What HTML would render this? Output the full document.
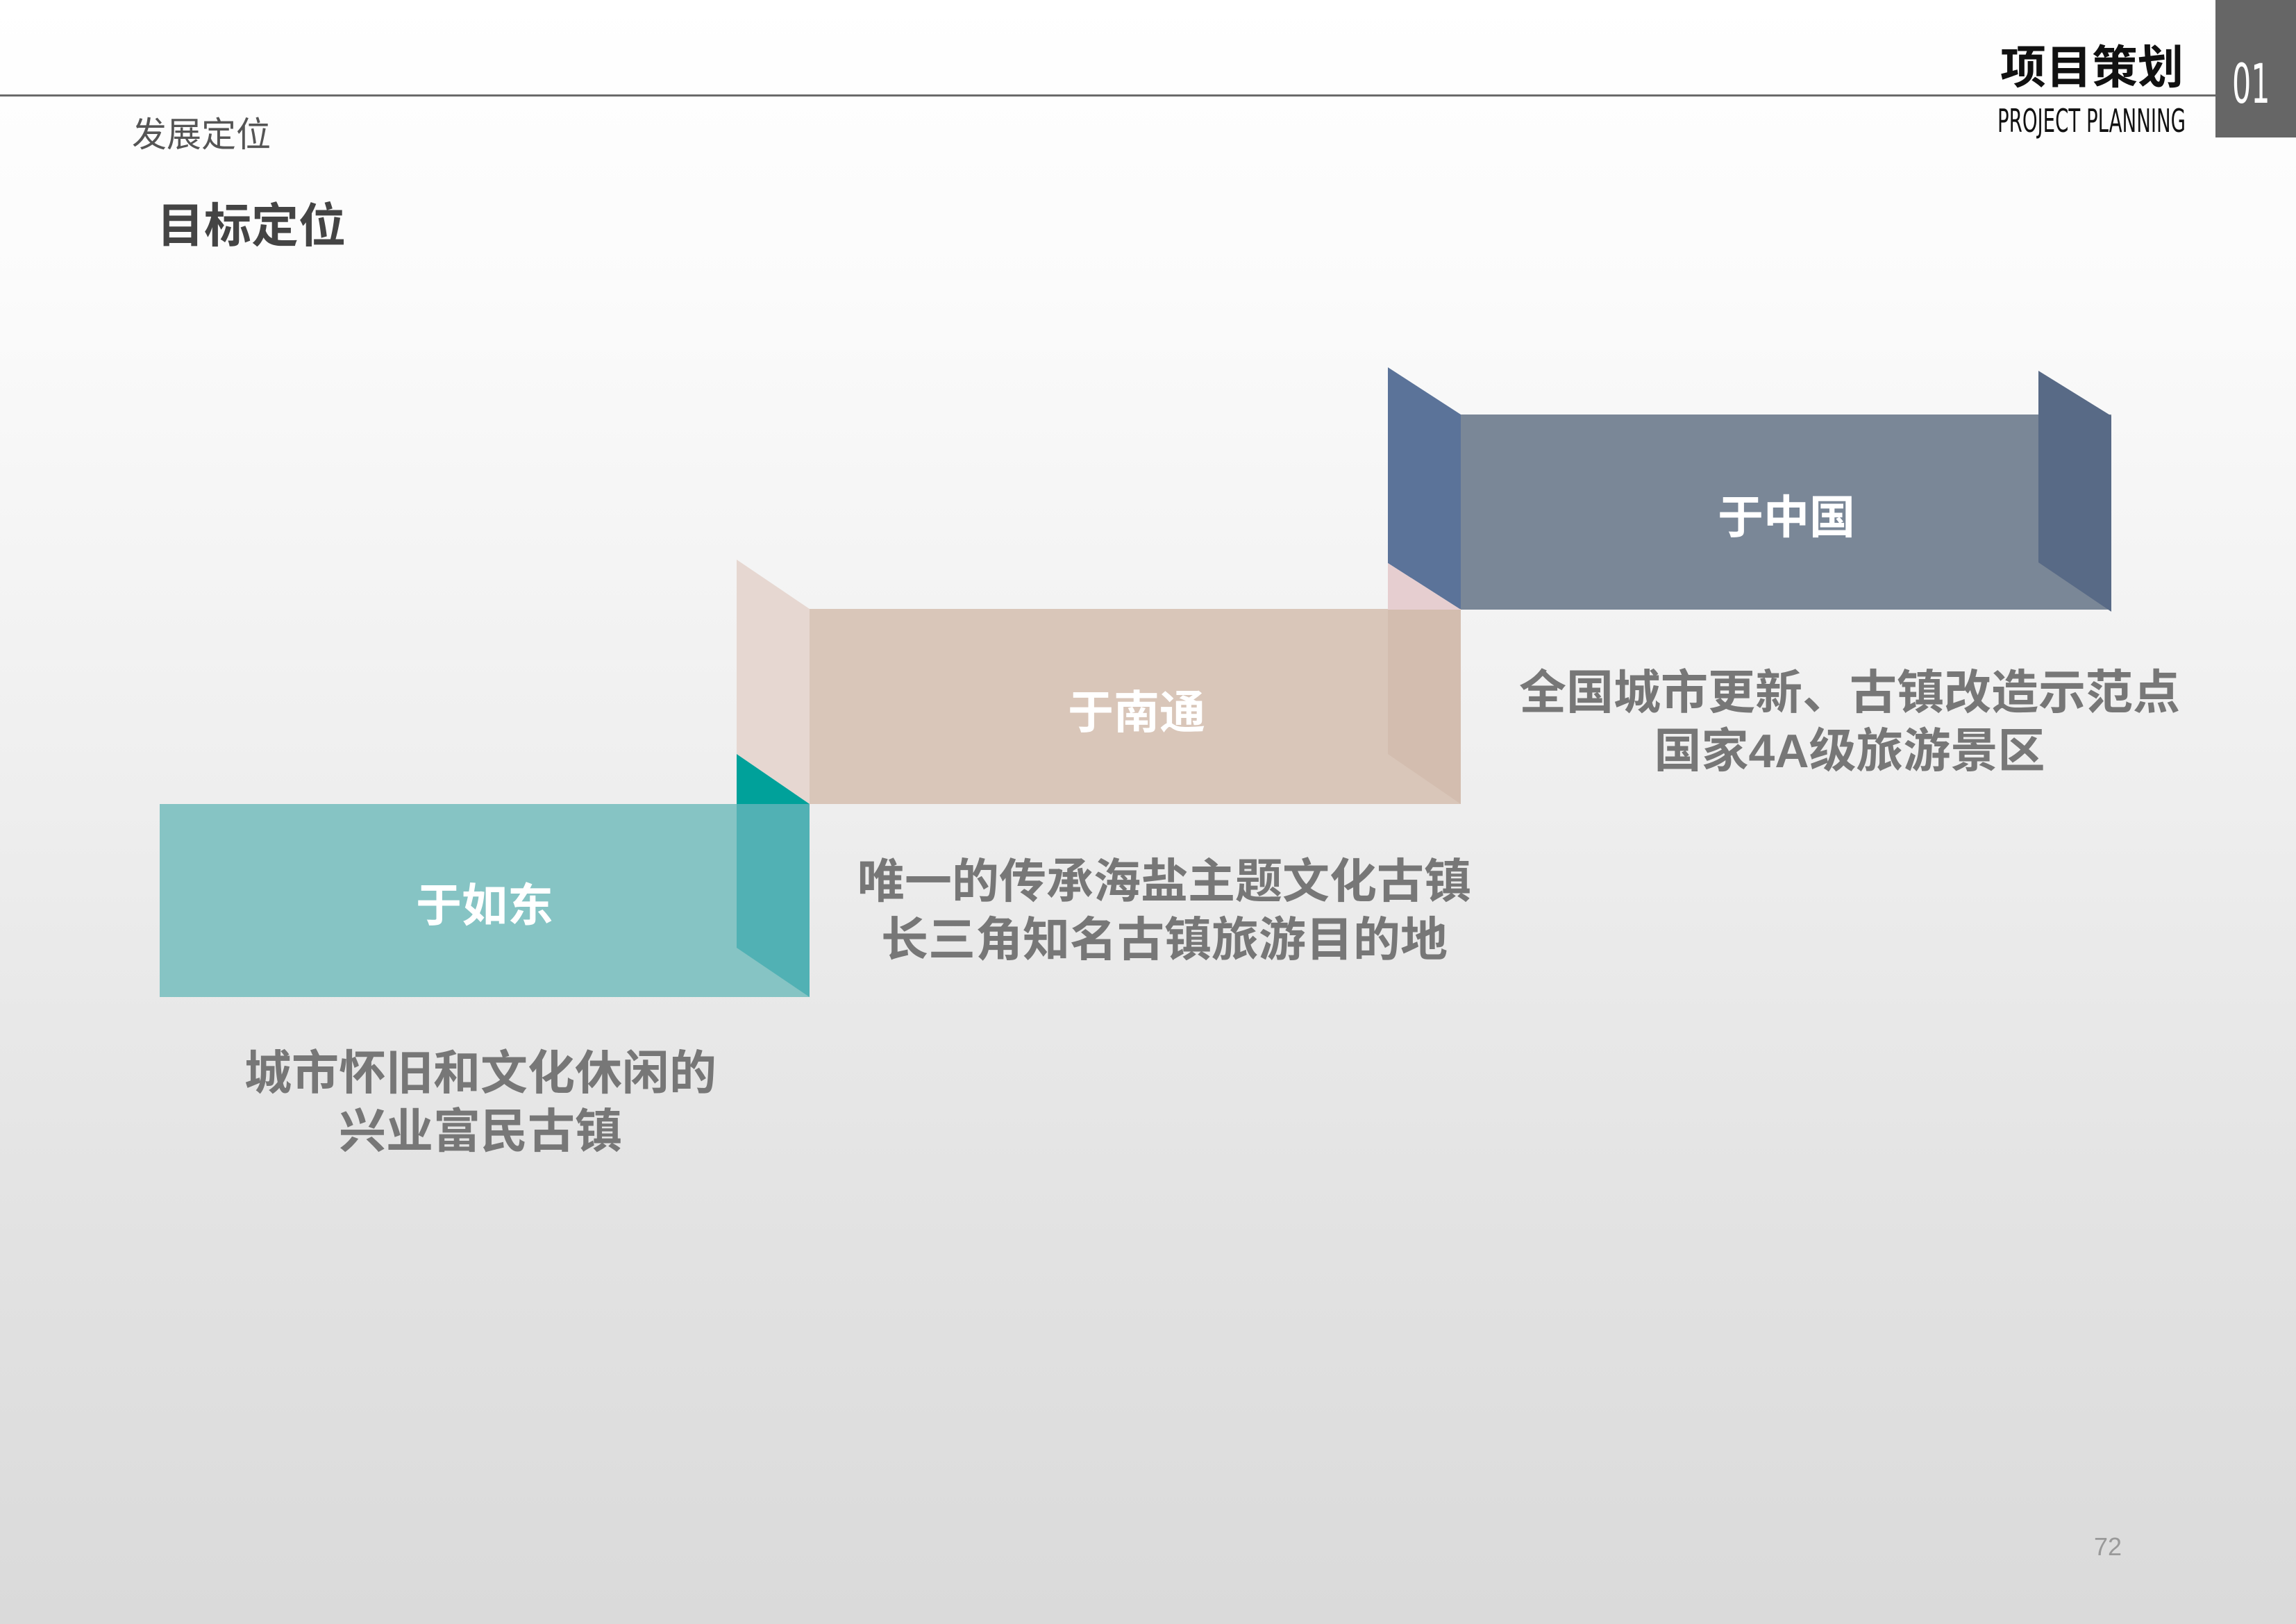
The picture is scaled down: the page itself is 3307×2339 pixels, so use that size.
<!DOCTYPE html>
<html><head><meta charset="utf-8"><style>
body{margin:0;}
#p{position:relative;width:3307px;height:2339px;overflow:hidden;background:linear-gradient(#ffffff 0px,#fbfbfb 420px,#efefef 1100px,#e2e2e2 1800px,#dadada 2339px);font-family:"Liberation Sans","Noto Sans CJK SC",sans-serif;}
.t{position:absolute;white-space:nowrap;}
.lbl{color:#fff;font-weight:bold;font-size:66px;transform:translate(-50%,-50%);}
.cap{color:#777;font-weight:bold;font-size:68px;line-height:84px;text-align:center;transform:translateX(-50%);}
</style></head><body><div id="p">
<div style="position:absolute;left:0;top:136px;width:3191px;height:3px;background:#6a6a6a"></div>
<div style="position:absolute;left:3191px;top:0;width:116px;height:198px;background:#666"></div>
<div class="t" style="left:3215px;top:82px;color:#fff;font-size:78px;line-height:80px;transform:scaleX(0.55);transform-origin:left top;font-family:'DejaVu Sans',sans-serif">01</div>
<div class="t" style="right:162px;top:52px;font-size:66px;font-weight:bold;color:#111;font-family:'Noto Sans CJK SC',sans-serif;line-height:80px">项目策划</div>
<div class="t" style="left:2877px;top:150px;font-size:46px;line-height:48px;color:#111;transform:scaleX(0.6);transform-origin:left top;font-family:'DejaVu Sans',sans-serif">PROJECT PLANNING</div>
<div class="t" style="left:190px;top:158px;font-size:50px;color:#555;font-family:'Noto Sans CJK SC',sans-serif;line-height:64px">发展定位</div>
<div class="t" style="left:226px;top:276px;font-size:68px;font-weight:bold;color:#444;font-family:'Noto Sans CJK SC',sans-serif;line-height:88px">目标定位</div>
<svg style="position:absolute;left:0;top:0" width="3307" height="2339">
<!-- China -->
<polygon points="1999,529 2104,597 2104,878 1999,811" fill="#5b7399"/>
<polygon points="2104,597 3041,597 3041,878 2104,878" fill="#7a8797"/>
<polygon points="2936,534 3041,599 3041,881 2936,810" fill="#586a86"/>
<!-- Nantong -->
<polygon points="1061,806 1166,877 1166,1158 1061,1086" fill="#e6d7d1"/>
<polygon points="1061,1086 1166,1158 1061,1158" fill="#00a19a"/>
<polygon points="1166,877 2104,877 2104,1158 1166,1158" fill="#d9c6b9"/>
<polygon points="1999,811 2104,878 1999,878" fill="#e6ced0"/>
<polygon points="1999,878 2104,878 2104,1158 1999,1086" fill="#d3bdaf"/>
<!-- Rudong -->
<polygon points="230,1158 1166,1158 1166,1436 230,1436" fill="#86c4c4"/>
<polygon points="1061,1158 1166,1158 1166,1436 1061,1365" fill="#51b1b4"/>
</svg>
<div class="t lbl" style="left:2573px;top:740px">于中国</div>
<div class="t lbl" style="left:1637px;top:1021px">于南通</div>
<div class="t lbl" style="left:698px;top:1299px">于如东</div>
<div class="t cap" style="left:2664px;top:956px">全国城市更新、古镇改造示范点<br>国家4A级旅游景区</div>
<div class="t cap" style="left:1677px;top:1228px">唯一的传承海盐主题文化古镇<br>长三角知名古镇旅游目的地</div>
<div class="t cap" style="left:692px;top:1504px">城市怀旧和文化休闲的<br>兴业富民古镇</div>
<div class="t" style="left:3016px;top:2207px;font-size:36px;color:#999">72</div>
</div></body></html>
